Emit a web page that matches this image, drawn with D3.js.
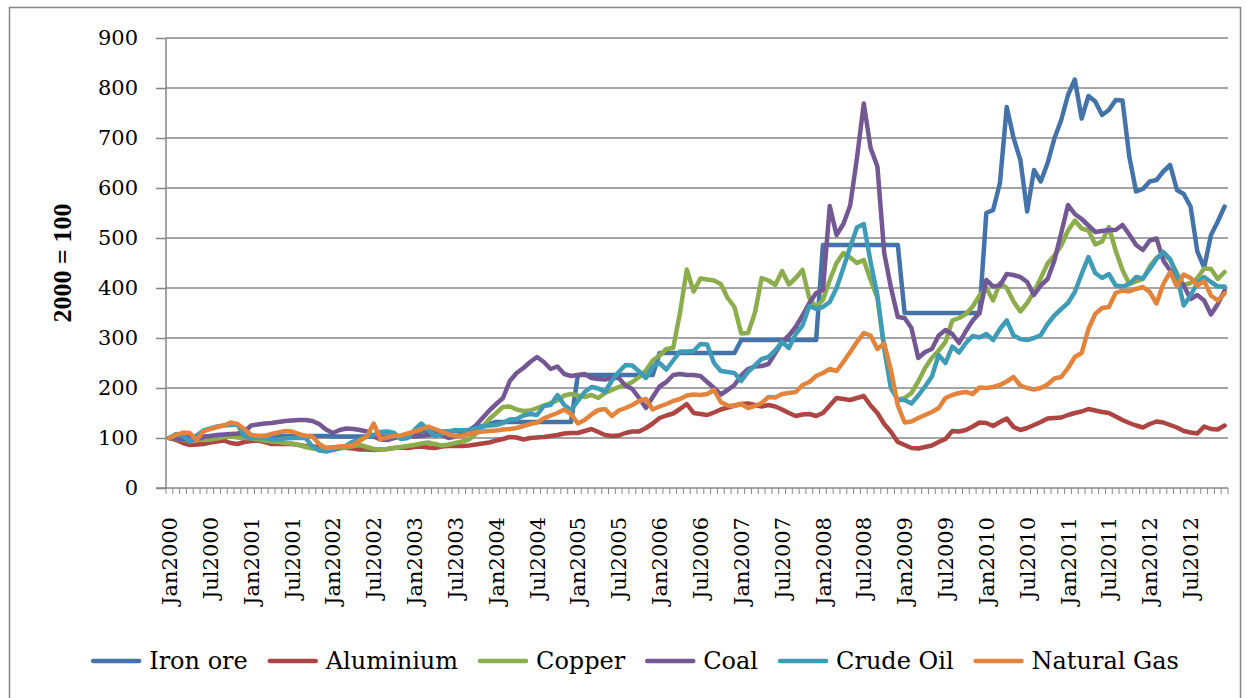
<!DOCTYPE html>
<html lang="en">
<head>
    <meta charset="UTF-8">
    <title>Commodity prices, 2000 = 100</title>
    <style>
        body {
            margin: 0;
            background: #fff;
        }

        #chart-wrapper {
            width: 1246px;
            height: 698px;
        }
    </style>
</head>

<body>
    <div id="chart-wrapper"></div>

    <script src="https://d3js.org/d3.v7.min.js"></script>
    <script>
        // monthly index, Jan2000 .. Dec2012 (one row per year)
        const years = d3.range(2000, 2013)
        const monthNames = ['Jan', 'Feb', 'Mar', 'Apr', 'May', 'Jun', 'Jul', 'Aug', 'Sep', 'Oct', 'Nov', 'Dec']
        const yTicks = [0, 100, 200, 300, 400, 500, 600, 700, 800, 900]
        const seriesNames = ['Iron ore', 'Aluminium', 'Copper', 'Coal', 'Crude Oil', 'Natural Gas']

        const ironOre = [
            100, 101, 102, 102, 103, 103, 103, 103, 103, 103, 103, 103,
            104, 104, 104, 104, 104, 104, 104, 104, 104, 104, 104, 104,
            103, 103, 103, 103, 103, 103, 103, 103, 103, 103, 103, 103,
            108, 113, 113, 113, 113, 113, 114, 115, 116, 120, 124, 128,
            132, 132, 132, 132, 132, 132, 132, 132, 132, 132, 132, 132,
            226, 226, 226, 226, 226, 226, 226, 226, 226, 226, 226, 226,
            270, 270, 270, 270, 270, 270, 270, 270, 270, 270, 270, 270,
            296, 296, 296, 296, 296, 296, 296, 296, 296, 296, 296, 296,
            486, 486, 486, 486, 486, 486, 486, 486, 486, 486, 486, 486,
            350, 350, 350, 350, 350, 350, 350, 350, 350, 350, 350, 350,
            550, 556, 610, 762, 700, 656, 553, 636, 613, 650, 699, 736,
            786, 817, 739, 784, 773, 746, 756, 776, 775, 663, 593, 598,
            613, 616, 633, 646, 596, 588, 563, 473, 441, 506, 533, 563
        ]
        const aluminium = [
            100, 96, 90, 86, 87, 88, 91, 93, 95, 90, 88, 92,
            94, 95, 92, 88, 88, 88, 88, 86, 84, 83, 82, 80,
            81, 82, 80, 79, 77, 77, 76, 77, 78, 80, 81, 80,
            82, 83, 81, 80, 83, 84, 84, 84, 85, 87, 89, 91,
            95, 98, 102, 101, 97, 100, 101, 102, 104, 106, 109, 110,
            110, 114, 118, 112, 106, 104, 105, 110, 113, 113, 120, 129,
            140, 145, 149, 158, 168, 150, 148, 146, 151, 157, 161, 165,
            168, 169, 166, 163, 166, 163, 157, 150, 144, 147, 148, 144,
            150, 165, 180, 178, 176, 180, 184, 165, 150, 128, 112, 92,
            86, 80, 79, 82, 85, 92, 98, 114, 113, 116, 123, 131,
            130, 124, 132, 139, 122, 116, 120, 126, 132, 139, 140, 141,
            146, 150, 153, 158, 155, 152, 150, 143, 136, 130, 125, 121,
            128, 133, 131, 126, 121, 114, 111, 109, 123, 118, 117, 125
        ]
        const copper = [
            100, 98, 96, 95, 96, 96, 97, 99, 102, 103, 101, 100,
            99, 97, 95, 93, 92, 90, 89, 86, 82, 79, 77, 76,
            77, 79, 81, 84, 86, 82, 78, 77, 78, 80, 82, 84,
            86, 89, 91, 88, 85, 87, 90, 93, 97, 108, 122, 138,
            150, 162, 163, 157, 154, 155, 160, 165, 170, 175, 185, 188,
            185, 182, 186, 180, 190, 196, 202, 205, 212, 222, 235, 255,
            265, 278, 280, 350, 437, 393, 419, 417, 415, 408, 380, 362,
            309, 310, 350, 420, 415, 406, 434, 407, 420, 436, 380, 362,
            376, 416, 450, 470, 461, 450, 456, 416, 380, 280, 200, 176,
            180, 190, 213, 240, 260, 275, 292, 335, 340, 348, 363, 385,
            400, 375, 410, 400, 373, 353, 370, 392, 420, 449, 465, 485,
            515, 535, 519, 515, 487, 493, 522, 475, 436, 408, 413, 418,
            443, 460, 469, 456, 430, 406, 410, 420, 439, 438, 418, 432
        ]
        const coal = [
            100, 99, 97, 96, 98, 102, 104, 106, 107, 108, 109, 112,
            125, 127, 129, 130, 132, 134, 135, 136, 136, 134, 128, 117,
            110, 116, 119, 118, 116, 113, 103, 97, 96, 100, 103, 104,
            103, 104, 106, 108, 106, 100, 103, 108, 115, 125, 140, 155,
            168, 180, 214, 230, 240, 252, 262, 252, 238, 243, 228, 224,
            226, 228, 220, 218, 217, 220, 220, 205, 198, 180, 160, 182,
            203, 212, 226, 228, 226, 226, 224, 212, 200, 187, 196, 206,
            225, 238, 243, 244, 248, 270, 292, 305, 322, 345, 370, 390,
            396, 564, 506, 528, 565, 660, 769, 680, 643, 470, 400, 342,
            340, 320, 260, 272, 278, 305, 316, 308, 290, 314, 335, 350,
            416, 403, 405, 428, 426, 422, 412, 386, 405, 418, 455, 510,
            566, 548, 538, 525, 512, 514, 516, 516, 526, 507, 486, 476,
            495, 499, 455, 435, 420, 405, 378, 386, 375, 347, 368, 395
        ]
        const crudeOil = [
            100, 108, 104, 93, 105, 115, 119, 123, 125, 126, 127, 104,
            100, 100, 100, 97, 97, 99, 100, 100, 100, 83, 75, 73,
            76, 80, 85, 93, 98, 103, 106, 112, 113, 110, 98, 100,
            116, 129, 116, 104, 108, 113, 116, 115, 115, 119, 123, 125,
            126, 130, 137, 138, 145, 148, 146, 164, 166, 186, 166, 156,
            174, 192, 202, 199, 192, 215, 232, 246, 245, 233, 220, 243,
            250, 237, 255, 273, 273, 274, 288, 287, 250, 234, 232, 230,
            214, 232, 245, 258, 262, 275, 292, 280, 308, 325, 364, 358,
            362, 372, 400, 440, 482, 521, 528, 452, 385, 280, 200, 176,
            176, 169, 185, 203, 223, 266, 250, 283, 271, 290, 304, 301,
            308, 296, 318, 335, 305, 298, 296, 300, 306, 328, 345, 358,
            370, 392, 428, 462, 430, 420, 428, 405, 403, 408, 422, 419,
            438, 458, 472, 458, 425, 365, 385, 410, 422, 412, 403, 403
        ]
        const naturalGas = [
            100, 106, 111, 110, 96, 113, 118, 122, 125, 131, 128, 118,
            106, 104, 104, 108, 111, 114, 113, 108, 104, 103, 88, 80,
            81, 83, 84, 86, 95, 103, 129, 98, 101, 104, 105, 109,
            113, 117, 123, 118, 113, 107, 104, 104, 108, 111, 113, 114,
            115, 117, 118, 120, 124, 128, 131, 139, 145, 150, 157, 148,
            129, 136, 147, 156, 158, 144, 155, 160, 166, 174, 178, 157,
            163, 168, 174, 178, 185, 187, 186, 188, 196, 172, 165, 164,
            168, 160, 164, 170, 182, 181, 188, 190, 192, 206, 212, 224,
            230, 238, 234, 252, 272, 292, 310, 305, 278, 289, 235, 165,
            131, 133, 140, 146, 152, 160, 180, 186, 190, 192, 188, 201,
            200, 202, 206, 213, 222, 205, 200, 197, 200, 207, 219, 222,
            240, 262, 270, 318, 348, 360, 362, 390, 395, 393, 398, 402,
            392, 369, 408, 432, 403, 427, 420, 405, 414, 385, 375, 389
        ]

        const seriesValues = [ironOre, aluminium, copper, coal, crudeOil, naturalGas]
        const colors = ['#4473aa', '#ad4542', '#8bad4c', '#735894', '#3f9cb6', '#e3843c']

        const months = years.flatMap(yr => monthNames.map(m => m + yr))

        const width = 1246
        const height = 698
        const margin = {
            top: 38,
            right: 18,
            bottom: 210,
            left: 166
        }
        const axisColor = '#868686'
        const fontFamily = '"DejaVu Serif", serif'

        const svg = d3.select('#chart-wrapper')
            .append('svg')
            .attr('width', width)
            .attr('height', height)

        // chart area border
        svg.append('rect')
            .attr('x', 9.5)
            .attr('y', 7.5)
            .attr('width', 1231)
            .attr('height', 720)
            .attr('fill', 'none')
            .attr('stroke', axisColor)
            .attr('stroke-width', 1.5)

        const xScale = d3.scaleBand()
            .domain(months)
            .range([margin.left, width - margin.right])
            .padding(0)

        const yScale = d3.scaleLinear()
            .domain([0, 900])
            .range([height - margin.bottom, margin.top])

        drawGrid()
        drawAxis()
        drawLines()
        drawTitle()
        drawLegend()

        function drawGrid() {
            svg.append('g')
                .attr('class', 'grid')
                .selectAll('line')
                .data(yTicks.filter(d => d > 0))
                .join('line')
                .attr('x1', margin.left)
                .attr('x2', width - margin.right)
                .attr('y1', d => yScale(d))
                .attr('y2', d => yScale(d))
                .attr('stroke', axisColor)
                .attr('stroke-width', 1.5)
        }

        function drawAxis() {
            const yAxis = d3.axisLeft(yScale)
                .tickValues(yTicks)
                .tickSize(10)
                .tickPadding(18)

            const gy = svg.append('g')
                .attr('transform', `translate(${margin.left}, 0)`)
                .call(yAxis)
            gy.selectAll('line, path').attr('stroke', axisColor).attr('stroke-width', 1.5)
            gy.select('.domain').attr('d', `M0,${yScale(900)}V${yScale(0)}`)
            gy.selectAll('text')
                .attr('fill', '#000')
                .style('font-family', fontFamily)
                .style('font-size', '21px')

            // category axis: baseline + a tick between every month
            const y0 = yScale(0)
            const gx = svg.append('g').attr('class', 'x-axis')
            gx.append('line')
                .attr('x1', margin.left - 10)
                .attr('x2', width - margin.right)
                .attr('y1', y0)
                .attr('y2', y0)
                .attr('stroke', axisColor)
                .attr('stroke-width', 1.5)
            gx.selectAll('.minor')
                .data(months.concat(['end']))
                .join('line')
                .attr('class', 'minor')
                .attr('x1', d => d === 'end' ? width - margin.right : xScale(d))
                .attr('x2', d => d === 'end' ? width - margin.right : xScale(d))
                .attr('y1', y0)
                .attr('y2', y0 + 6)
                .attr('stroke', axisColor)
                .attr('stroke-width', 1)

            const xAxis = d3.axisBottom(xScale)
                .tickValues(months.filter((d, i) => i % 6 === 0))
                .tickSize(0)

            const labels = svg.append('g')
                .attr('transform', `translate(0, ${y0})`)
                .call(xAxis)
            labels.select('.domain').remove()
            labels.selectAll('text')
                .attr('y', 0)
                .attr('x', 0)
                .attr('dy', '0.36em')
                .attr('text-anchor', 'end')
                .attr('transform', 'translate(0, 29) rotate(-90)')
                .attr('fill', '#000')
                .style('font-family', fontFamily)
                .style('font-size', '21px')
        }

        function drawLines() {
            const line = d3.line()
                .x((d, i) => xScale(months[i]) + xScale.bandwidth() / 2)
                .y(d => yScale(d))

            svg.append('g')
                .attr('class', 'line-wrapper')
                .selectAll('path')
                .data(seriesValues)
                .join('path')
                .attr('fill', 'none')
                .attr('stroke', (d, i) => colors[i])
                .attr('stroke-width', 4.5)
                .attr('stroke-linejoin', 'round')
                .attr('stroke-linecap', 'round')
                .attr('d', line)
        }

        function drawTitle() {
            svg.append('text')
                .attr('transform', 'translate(62, 263) rotate(-90)')
                .attr('text-anchor', 'middle')
                .attr('dy', '0.35em')
                .style('font-family', '"Liberation Serif", serif')
                .style('font-weight', 'bold')
                .style('font-size', '26px')
                .text('2000 = 100')
        }

        function drawLegend() {
            const legend = svg.append('g').attr('class', 'legend')
            const ly = 661
            const lineLen = 46
            const gap = 10
            const itemGap = 22

            const items = legend.selectAll('g')
                .data(seriesNames)
                .join('g')
            items.append('line')
                .attr('x1', 0)
                .attr('x2', lineLen)
                .attr('y1', ly)
                .attr('y2', ly)
                .attr('stroke', (d, i) => colors[i])
                .attr('stroke-width', 4.5)
                .attr('stroke-linecap', 'round')
            items.append('text')
                .attr('x', lineLen + gap)
                .attr('y', ly)
                .attr('dy', '0.35em')
                .style('font-family', fontFamily)
                .style('font-size', '24px')
                .text(d => d)

            const widths = []
            items.each(function () {
                widths.push(lineLen + gap + this.querySelector('text').getComputedTextLength())
            })
            const total = d3.sum(widths) + itemGap * (widths.length - 1)
            let cursor = 636 - total / 2
            items.attr('transform', (d, i) => {
                const t = `translate(${cursor}, 0)`
                cursor += widths[i] + itemGap
                return t
            })
        }
    </script>
</body>
</html>
